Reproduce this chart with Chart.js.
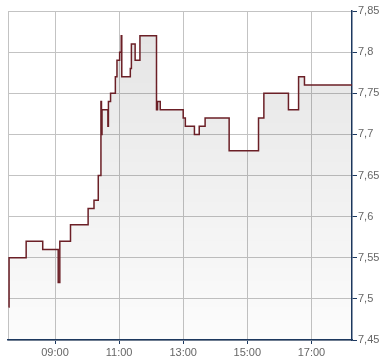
<!DOCTYPE html>
<html>
<head>
<meta charset="utf-8">
<script src="https://cdn.jsdelivr.net/npm/chart.js@4"></script>
<style>
  html, body { margin: 0; padding: 0; background: #fff; }
  #wrap { width: 390px; height: 364px; }
</style>
</head>
<body>
<div id="wrap"><canvas id="grafico"></canvas></div>
<script>
// datos (hora, precio)
const horas = ['07:33','07:34','08:06','08:37','09:06','09:09','09:29','10:02','10:13','10:21',
  '10:26','10:27','10:28','10:39','10:40','10:44','10:53','10:56','11:01','11:04',
  '11:05','11:21','11:23','11:30','11:39','12:10','12:12','12:17','13:00','13:04',
  '13:21','13:30','13:41','14:26','15:21','15:31','16:17','16:36','16:47','18:16'];
const precios = [7.49, 7.55, 7.57, 7.56, 7.52, 7.57, 7.59, 7.61, 7.62, 7.65,
  7.74, 7.70, 7.73, 7.71, 7.74, 7.75, 7.77, 7.79, 7.80, 7.82,
  7.77, 7.78, 7.81, 7.79, 7.82, 7.73, 7.74, 7.73, 7.72, 7.71,
  7.70, 7.71, 7.72, 7.68, 7.72, 7.75, 7.73, 7.77, 7.76, 7.76];
const etiquetasHora = ['09:00', '11:00', '13:00', '15:00', '17:00'];
const inicio = '07:32';
const fin = '18:16';
const precioMin = 7.45;
const precioMax = 7.85;

const azul = '#1d3960';
const gris = '#c3c3c3';

function aMinutos(h) {
  const [hh, mm] = h.split(':').map(Number);
  return hh * 60 + mm;
}

const puntos = horas.map((h, i) => ({ x: aMinutos(h), y: precios[i] }));
const ticksX = [aMinutos(inicio)].concat(etiquetasHora.map(aMinutos));

// degradado translucido para que se vean la rejilla y los bordes
function relleno(context) {
  const area = context.chart.chartArea;
  if (!area) return 'rgba(0,0,0,0.05)';
  const g = context.chart.ctx.createLinearGradient(0, area.top, 0, area.bottom);
  g.addColorStop(0, 'rgba(0,0,0,0.11)');
  g.addColorStop(1, 'rgba(0,0,0,0.012)');
  return g;
}

const ctx = document.getElementById('grafico').getContext('2d');
new Chart(ctx, {
  type: 'line',
  data: {
    datasets: [{
      data: puntos,
      stepped: true,
      borderColor: '#6b1f26',
      borderWidth: 1.5,
      pointRadius: 0,
      fill: 'start',
      backgroundColor: relleno
    }]
  },
  options: {
    responsive: true,
    maintainAspectRatio: false,
    animation: false,
    layout: { padding: { left: 8, top: 11, right: 0, bottom: 0 } },
    plugins: { legend: { display: false }, tooltip: { enabled: false } },
    scales: {
      x: {
        type: 'linear',
        min: aMinutos(inicio),
        max: aMinutos(fin),
        afterBuildTicks: scale => { scale.ticks = ticksX.map(v => ({ value: v })); },
        afterFit: scale => { scale.height = 24; },
        grid: {
          color: gris,
          tickLength: 4,
          tickColor: c => (c.index === 0 ? 'rgba(0,0,0,0)' : azul)
        },
        border: { color: azul, width: 1.5 },
        ticks: {
          autoSkip: false,
          maxRotation: 0,
          padding: 2,
          color: '#666',
          font: { family: 'Liberation Sans', size: 11 },
          callback: (v, i) => (i === 0 ? '' : etiquetasHora[i - 1])
        }
      },
      y: {
        position: 'right',
        min: precioMin,
        max: precioMax,
        afterFit: scale => { scale.width = 38; },
        grid: { color: gris, tickLength: 5, tickColor: azul },
        border: { color: azul, width: 1.5 },
        ticks: {
          stepSize: 0.05,
          padding: 1,
          color: '#666',
          font: { family: 'Liberation Sans', size: 11 },
          callback: v => String(+v.toFixed(2)).replace('.', ',')
        }
      }
    }
  }
});
</script>
</body>
</html>
